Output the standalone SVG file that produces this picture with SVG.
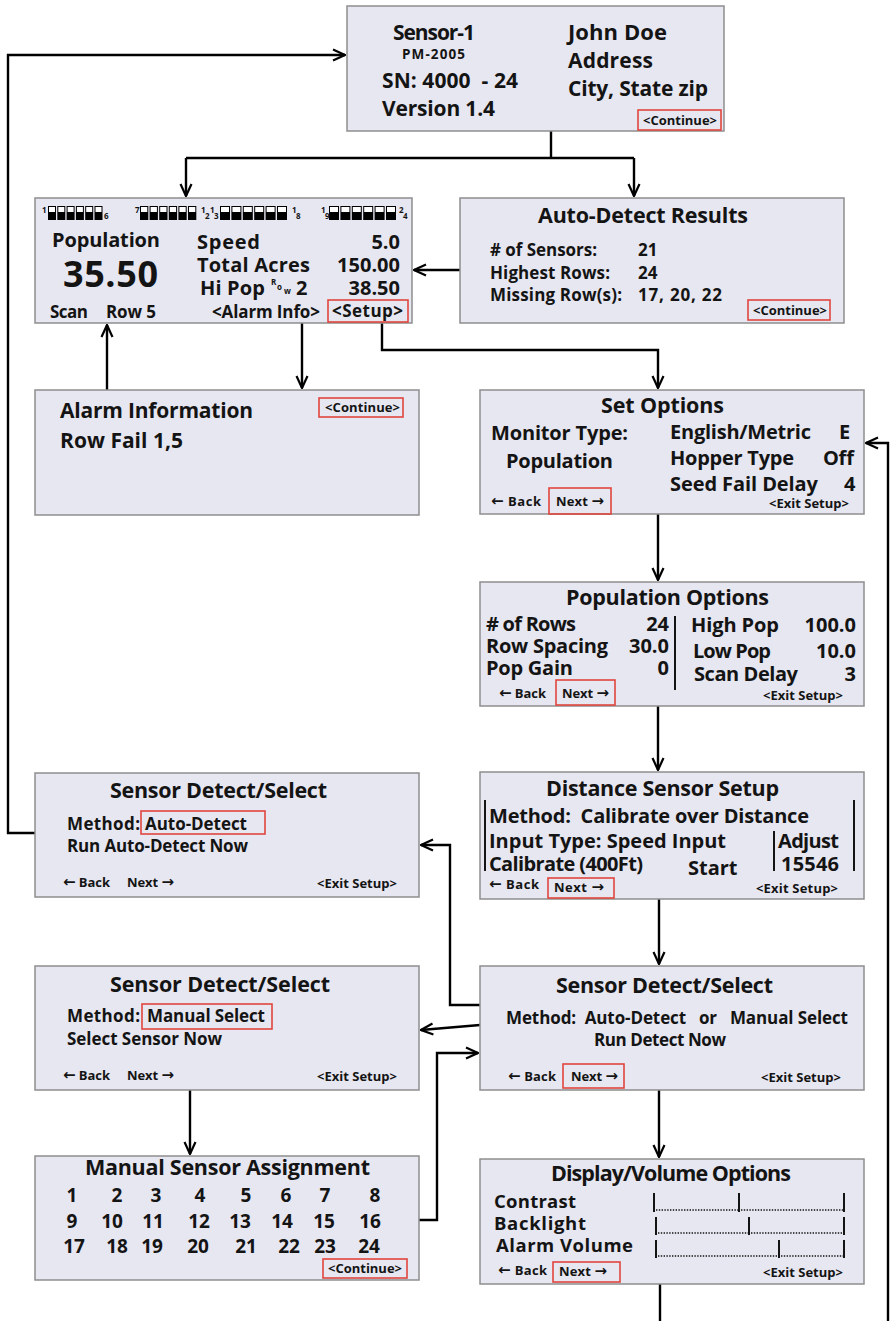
<svg xmlns="http://www.w3.org/2000/svg" width="896" height="1321" viewBox="0 0 896 1321">
<defs>
<style>
.bx{fill:#e7e7f1;stroke:#8e8e8e;stroke-width:1.5}
.rd{fill:none;stroke:#e0453e;stroke-width:1.6}
text{font-family:"Open Sans","Noto Sans","Liberation Sans",sans-serif;font-weight:700;fill:#141414}
.h{font-size:21.5px}
.b{font-size:20px}
.v{font-size:18.5px}
.m{font-size:17px}
.s{font-size:13px}
.n{font-size:19px;text-anchor:middle}
.tiny{font-size:8px}
.e{text-anchor:end}
.ar{font-family:"DejaVu Sans",sans-serif;font-size:15px;font-weight:700}
.sep{stroke:#141414;stroke-width:2;fill:none}
.cn{stroke:#000;stroke-width:2.4;fill:none}
</style>
<marker id="ah" viewBox="0 0 14 14" refX="13" refY="7" markerWidth="14" markerHeight="14" markerUnits="userSpaceOnUse" orient="auto">
<path d="M1,1.5 L13,7 L1,12.5" fill="none" stroke="#000" stroke-width="2.2"/>
</marker>
</defs>
<rect width="896" height="1321" fill="#fff"/>

<g id="connectors">
<path class="cn" d="M551,131 V158"/>
<path class="cn" d="M186,158 H634"/>
<path class="cn" d="M186,158 V196" marker-end="url(#ah)"/>
<path class="cn" d="M634,158 V196" marker-end="url(#ah)"/>
<path class="cn" d="M460,270 H414" marker-end="url(#ah)"/>
<path class="cn" d="M302,323 V388" marker-end="url(#ah)"/>
<path class="cn" d="M107,390 V325" marker-end="url(#ah)"/>
<path class="cn" d="M382,321 V350 H658 V388" marker-end="url(#ah)"/>
<path class="cn" d="M658,514 V580" marker-end="url(#ah)"/>
<path class="cn" d="M658,706 V770" marker-end="url(#ah)"/>
<path class="cn" d="M659,899 V964" marker-end="url(#ah)"/>
<path class="cn" d="M659,1090 V1157" marker-end="url(#ah)"/>
<path class="cn" d="M660,1284 V1321"/>
<path class="cn" d="M888,1321 V443 H866" marker-end="url(#ah)"/>
<path class="cn" d="M480,1005 H450 V845 H421" marker-end="url(#ah)"/>
<path class="cn" d="M480,1025 L421,1030" marker-end="url(#ah)"/>
<path class="cn" d="M419,1220 H437 V1053 H478" marker-end="url(#ah)"/>
<path class="cn" d="M190,1090 V1154" marker-end="url(#ah)"/>
<path class="cn" d="M35,833 H8 V55 H345" marker-end="url(#ah)"/>
</g>

<g id="sensor-info">
<rect class="bx" x="347" y="6" width="377" height="125"/>
<text style="font-size:21px" x="393" y="40" textLength="82">Sensor-1</text>
<text style="font-size:13.5px" x="402" y="59" textLength="63">PM-2005</text>
<text style="font-size:21px" x="382" y="88" textLength="136" xml:space="preserve">SN: 4000  - 24</text>
<text style="font-size:21px" x="382" y="116" textLength="113">Version 1.4</text>
<text style="font-size:22px" x="568" y="40" textLength="99">John Doe</text>
<text style="font-size:21px" x="568" y="68" textLength="85">Address</text>
<text style="font-size:21px" x="568" y="96" textLength="140">City, State zip</text>
<rect class="rd" x="638" y="110" width="83" height="20"/>
<text class="s" x="643" y="125" textLength="74">&lt;Continue&gt;</text>
</g>

<g id="main-screen">
<rect class="bx" x="35" y="198" width="377" height="125"/>
<g id="bars" fill="#000">
<rect x="48" y="206" width="8" height="14"/><rect x="57.3" y="206" width="8" height="14"/><rect x="66.6" y="206" width="8" height="14"/><rect x="75.9" y="206" width="8" height="14"/><rect x="85.2" y="206" width="8" height="14"/><rect x="94.5" y="206" width="8" height="14"/>
<rect x="140" y="206" width="8.3" height="14"/><rect x="149.6" y="206" width="8.3" height="14"/><rect x="159.2" y="206" width="8.3" height="14"/><rect x="168.8" y="206" width="8.3" height="14"/><rect x="178.4" y="206" width="8.3" height="14"/><rect x="188" y="206" width="8.3" height="14"/>
<rect x="220" y="206" width="10" height="14"/><rect x="231.4" y="206" width="10" height="14"/><rect x="242.8" y="206" width="10" height="14"/><rect x="254.2" y="206" width="10" height="14"/><rect x="265.6" y="206" width="10" height="14"/><rect x="277" y="206" width="10" height="14"/>
<rect x="329" y="206" width="10" height="14"/><rect x="340.4" y="206" width="10" height="14"/><rect x="351.8" y="206" width="10" height="14"/><rect x="363.2" y="206" width="10" height="14"/><rect x="374.6" y="206" width="10" height="14"/><rect x="386" y="206" width="10" height="14"/>
</g>
<g fill="#fff">
<rect x="49" y="207" width="6" height="5"/><rect x="58.3" y="207" width="6" height="5"/><rect x="67.6" y="207" width="6" height="5"/><rect x="76.9" y="207" width="6" height="5"/><rect x="86.2" y="207" width="6" height="5"/><rect x="95.5" y="207" width="6" height="5"/>
<rect x="141" y="207" width="6.3" height="5"/><rect x="150.6" y="207" width="6.3" height="5"/><rect x="160.2" y="207" width="6.3" height="5"/><rect x="169.8" y="207" width="6.3" height="5"/><rect x="179.4" y="207" width="6.3" height="5"/><rect x="189" y="207" width="6.3" height="5"/>
<rect x="221" y="207" width="8" height="5"/><rect x="232.4" y="207" width="8" height="5"/><rect x="243.8" y="207" width="8" height="5"/><rect x="255.2" y="207" width="8" height="5"/><rect x="266.6" y="207" width="8" height="5"/><rect x="278" y="207" width="8" height="5"/>
<rect x="330" y="207" width="8" height="5"/><rect x="341.4" y="207" width="8" height="5"/><rect x="352.8" y="207" width="8" height="5"/><rect x="364.2" y="207" width="8" height="5"/><rect x="375.6" y="207" width="8" height="5"/><rect x="387" y="207" width="8" height="5"/>
</g>
<text class="tiny" x="42" y="213">1</text>
<text class="tiny" x="104" y="219">6</text>
<text class="tiny" x="135" y="213">7</text>
<text class="tiny" x="201" y="213">1</text><text class="tiny" x="205" y="219">2</text>
<text class="tiny" x="210" y="213">1</text><text class="tiny" x="214" y="219">3</text>
<text class="tiny" x="292" y="213">1</text><text class="tiny" x="296" y="219">8</text>
<text class="tiny" x="321" y="213">1</text><text class="tiny" x="325" y="219">9</text>
<text class="tiny" x="399" y="213">2</text><text class="tiny" x="403" y="219">4</text>
<text class="b" x="52" y="247" textLength="108">Population</text>
<text style="font-size:36px" x="63" y="287" textLength="95">35.50</text>
<text class="b" x="197" y="249" textLength="63">Speed</text>
<text class="b e" x="400" y="249">5.0</text>
<text class="b" x="197" y="272" textLength="113">Total Acres</text>
<text class="b e" x="400" y="272">150.00</text>
<text class="b" x="200" y="295" textLength="65">Hi Pop</text>
<text class="tiny" x="271" y="285">R</text>
<text class="tiny" x="277" y="290">o</text>
<text class="tiny" x="284" y="294">w</text>
<text class="b" x="296" y="295">2</text>
<text class="b e" x="400" y="295">38.50</text>
<text class="m" x="50" y="318" textLength="38">Scan</text>
<text class="m" x="106" y="318" textLength="50">Row 5</text>
<text class="m" x="212" y="318" textLength="108">&lt;Alarm Info&gt;</text>
<rect class="rd" x="328" y="300" width="80" height="22"/>
<text class="m" x="332" y="317" textLength="71">&lt;Setup&gt;</text>
</g>

<g id="auto-detect-results">
<rect class="bx" x="460" y="198" width="384" height="125"/>
<text class="h" x="538" y="223" textLength="210">Auto-Detect Results</text>
<text class="m" x="490" y="256" textLength="107"># of Sensors:</text>
<text class="m" x="638" y="256">21</text>
<text class="m" x="490" y="279" textLength="120">Highest Rows:</text>
<text class="m" x="638" y="279">24</text>
<text class="m" x="490" y="301" textLength="132">Missing Row(s):</text>
<text class="m" x="638" y="301" textLength="84">17, 20, 22</text>
<rect class="rd" x="748" y="300" width="82" height="20"/>
<text class="s" x="753" y="315" textLength="74">&lt;Continue&gt;</text>
</g>

<g id="alarm-info">
<rect class="bx" x="35" y="390" width="384" height="125"/>
<text style="font-size:21px" x="60" y="418" textLength="193">Alarm Information</text>
<text style="font-size:21px" x="60" y="448" textLength="123">Row Fail 1,5</text>
<rect class="rd" x="319" y="398" width="84" height="19"/>
<text class="s" x="325" y="412" textLength="75">&lt;Continue&gt;</text>
</g>

<g id="set-options">
<rect class="bx" x="480" y="390" width="384" height="124"/>
<text class="h" x="601" y="413" textLength="123">Set Options</text>
<text class="b" x="491" y="440" textLength="137">Monitor Type:</text>
<text class="b" x="506" y="468" textLength="107">Population</text>
<text class="b" x="670" y="439" textLength="141">English/Metric</text>
<text class="b" x="839" y="439">E</text>
<text class="b" x="823" y="465" textLength="31">Off</text>
<text class="b" x="670" y="465" textLength="124">Hopper Type</text>
<text class="b" x="670" y="491" textLength="148">Seed Fail Delay</text>
<text class="b" x="844" y="491">4</text>
<text class="s" x="491" y="506" textLength="50"><tspan class="ar">←</tspan> Back</text>
<rect class="rd" x="549" y="488" width="62" height="26"/>
<text class="s" x="556" y="506" textLength="48">Next <tspan class="ar">→</tspan></text>
<text class="s" x="769" y="508" textLength="80">&lt;Exit Setup&gt;</text>
</g>

<g id="population-options">
<rect class="bx" x="480" y="582" width="384" height="124"/>
<text class="h" x="566" y="605" textLength="203">Population Options</text>
<text class="b" x="486" y="631" textLength="90"># of Rows</text>
<text class="b e" x="669" y="631">24</text>
<text class="b" x="486" y="653" textLength="122">Row Spacing</text>
<text class="b e" x="669" y="653">30.0</text>
<text class="b" x="486" y="675" textLength="87">Pop Gain</text>
<text class="b e" x="669" y="675">0</text>
<path class="sep" d="M675,616 V690"/>
<text class="b" x="691" y="632" textLength="88">High Pop</text>
<text class="b e" x="856" y="632">100.0</text>
<text class="b" x="693" y="658" textLength="78">Low Pop</text>
<text class="b e" x="856" y="658">10.0</text>
<text class="b" x="694" y="681" textLength="104">Scan Delay</text>
<text class="b e" x="856" y="681">3</text>
<text class="s" x="499" y="698" textLength="47"><tspan class="ar">←</tspan> Back</text>
<rect class="rd" x="556" y="680" width="59" height="25"/>
<text class="s" x="562" y="698" textLength="47">Next <tspan class="ar">→</tspan></text>
<text class="s" x="763" y="700" textLength="80">&lt;Exit Setup&gt;</text>
</g>

<g id="distance-sensor-setup">
<rect class="bx" x="480" y="772" width="384" height="127"/>
<text class="h" x="546" y="796" textLength="233">Distance Sensor Setup</text>
<path class="sep" d="M485,800 V871"/>
<path class="sep" d="M854,800 V871"/>
<path class="sep" d="M774,831 V871"/>
<text class="b" x="489" y="823" textLength="320" xml:space="preserve">Method:  Calibrate over Distance</text>
<text class="b" x="489" y="848" textLength="237">Input Type: Speed Input</text>
<text class="b" x="778" y="848" textLength="61">Adjust</text>
<text class="b" x="489" y="871" textLength="154">Calibrate (400Ft)</text>
<text class="b" x="688" y="875">Start</text>
<text class="b" x="781" y="871" textLength="58">15546</text>
<text class="s" x="489" y="889" textLength="50"><tspan class="ar">←</tspan> Back</text>
<rect class="rd" x="548" y="878" width="66" height="20"/>
<text class="s" x="554" y="892" textLength="50">Next <tspan class="ar">→</tspan></text>
<text class="s" x="756" y="893" textLength="82">&lt;Exit Setup&gt;</text>
</g>

<g id="sensor-detect-select">
<rect class="bx" x="480" y="966" width="384" height="124"/>
<text class="h" x="556" y="993" textLength="217">Sensor Detect/Select</text>
<text class="m" x="506" y="1024" textLength="342" xml:space="preserve">Method:  Auto-Detect   or   Manual Select</text>
<text class="m" x="594" y="1046" textLength="132">Run Detect Now</text>
<text class="s" x="508" y="1081" textLength="48"><tspan class="ar">←</tspan> Back</text>
<rect class="rd" x="563" y="1064" width="61" height="24"/>
<text class="s" x="571" y="1081" textLength="47">Next <tspan class="ar">→</tspan></text>
<text class="s" x="761" y="1082" textLength="80">&lt;Exit Setup&gt;</text>
</g>

<g id="sensor-detect-auto">
<rect class="bx" x="35" y="773" width="384" height="124"/>
<text class="h" x="110" y="798" textLength="217">Sensor Detect/Select</text>
<text class="m" x="67" y="830" textLength="73">Method:</text>
<rect class="rd" x="141" y="811" width="124" height="23"/>
<text class="m" x="145" y="830" textLength="102">Auto-Detect</text>
<text class="m" x="67" y="852" textLength="181">Run Auto-Detect Now</text>
<text class="s" x="63" y="887" textLength="47"><tspan class="ar">←</tspan> Back</text>
<text class="s" x="127" y="887" textLength="47">Next <tspan class="ar">→</tspan></text>
<text class="s" x="317" y="888" textLength="80">&lt;Exit Setup&gt;</text>
</g>

<g id="sensor-detect-manual">
<rect class="bx" x="35" y="966" width="384" height="124"/>
<text class="h" x="110" y="992" textLength="220">Sensor Detect/Select</text>
<text class="m" x="67" y="1022" textLength="73">Method:</text>
<rect class="rd" x="142" y="1004" width="130" height="25"/>
<text class="m" x="147" y="1022" textLength="118">Manual Select</text>
<text class="m" x="67" y="1045" textLength="155">Select Sensor Now</text>
<text class="s" x="63" y="1080" textLength="47"><tspan class="ar">←</tspan> Back</text>
<text class="s" x="127" y="1080" textLength="47">Next <tspan class="ar">→</tspan></text>
<text class="s" x="317" y="1081" textLength="80">&lt;Exit Setup&gt;</text>
</g>

<g id="manual-sensor-assignment">
<rect class="bx" x="35" y="1156" width="384" height="124"/>
<text class="h" x="85" y="1175" textLength="285">Manual Sensor Assignment</text>
<text class="n" x="72" y="1202">1</text><text class="n" x="117" y="1202">2</text><text class="n" x="156" y="1202">3</text><text class="n" x="200" y="1202">4</text><text class="n" x="246" y="1202">5</text><text class="n" x="286" y="1202">6</text><text class="n" x="325" y="1202">7</text><text class="n" x="375" y="1202">8</text>
<text class="n" x="72" y="1228">9</text><text class="n" x="112" y="1228">10</text><text class="n" x="153" y="1228">11</text><text class="n" x="199" y="1228">12</text><text class="n" x="240" y="1228">13</text><text class="n" x="282" y="1228">14</text><text class="n" x="324" y="1228">15</text><text class="n" x="370" y="1228">16</text>
<text class="n" x="74" y="1253">17</text><text class="n" x="117" y="1253">18</text><text class="n" x="152" y="1253">19</text><text class="n" x="198" y="1253">20</text><text class="n" x="246" y="1253">21</text><text class="n" x="289" y="1253">22</text><text class="n" x="325" y="1253">23</text><text class="n" x="369" y="1253">24</text>
<rect class="rd" x="323" y="1259" width="84" height="19"/>
<text class="s" x="328" y="1273" textLength="74">&lt;Continue&gt;</text>
</g>

<g id="display-volume-options">
<rect class="bx" x="480" y="1159" width="384" height="125"/>
<text class="h" x="551" y="1181" textLength="240">Display/Volume Options</text>
<text class="v" x="494" y="1208" textLength="82">Contrast</text>
<text class="v" x="494" y="1230" textLength="92">Backlight</text>
<text class="v" x="496" y="1252" textLength="137">Alarm Volume</text>
<g stroke="#141414" stroke-width="2" fill="none">
<path d="M654,1193 V1212 M739,1193 V1212 M844,1193 V1212"/>
<path d="M656,1217 V1235 M749,1217 V1235 M844,1217 V1235"/>
<path d="M656,1240 V1258 M779,1240 V1258 M844,1240 V1258"/>
</g>
<g stroke="#141414" stroke-width="1.6" stroke-dasharray="1.4,1.4" fill="none">
<path d="M656,1210 H738 M741,1210 H843"/>
<path d="M658,1233 H748 M751,1233 H843"/>
<path d="M658,1256 H778 M781,1256 H843"/>
</g>
<text class="s" x="498" y="1275" textLength="49"><tspan class="ar">←</tspan> Back</text>
<rect class="rd" x="553" y="1262" width="67" height="20"/>
<text class="s" x="559" y="1276" textLength="48">Next <tspan class="ar">→</tspan></text>
<text class="s" x="763" y="1277" textLength="80">&lt;Exit Setup&gt;</text>
</g>
</svg>
